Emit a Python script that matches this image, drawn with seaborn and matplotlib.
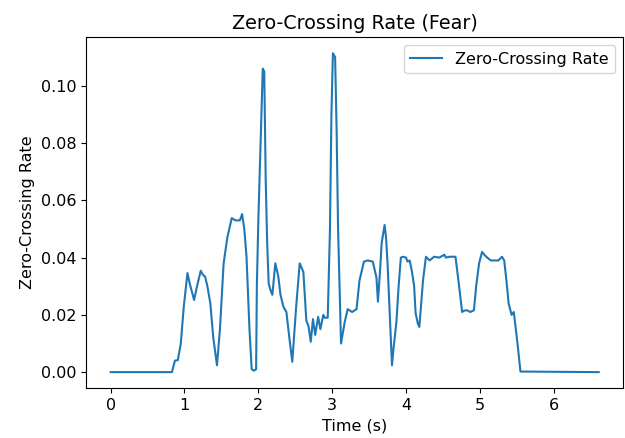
import numpy as np
import pandas as pd
import matplotlib
matplotlib.use('Agg')
import matplotlib.pyplot as plt
import seaborn as sns

# zero-crossing rate, time in seconds
time_s = [0.0, 0.83, 0.87, 0.91, 0.95, 0.99, 1.04, 1.07, 1.13, 1.17, 1.22, 1.25, 1.28,
          1.31, 1.35, 1.39, 1.44, 1.48, 1.53, 1.58, 1.64, 1.69, 1.75, 1.78, 1.81, 1.84,
          1.88, 1.91, 1.94, 1.97, 1.98, 2.00, 2.03, 2.06, 2.08, 2.10, 2.12, 2.14, 2.16,
          2.19, 2.23, 2.27, 2.30, 2.34, 2.38, 2.42, 2.46, 2.51, 2.56, 2.61, 2.65, 2.68,
          2.71, 2.74, 2.77, 2.81, 2.84, 2.88, 2.90, 2.94, 2.97, 2.99, 3.01, 3.04, 3.06,
          3.08, 3.12, 3.14, 3.17, 3.21, 3.27, 3.33, 3.37, 3.43, 3.48, 3.55, 3.60, 3.62,
          3.65, 3.67, 3.71, 3.73, 3.75, 3.78, 3.81, 3.83, 3.87, 3.90, 3.93, 3.96, 4.00,
          4.02, 4.05, 4.08, 4.11, 4.13, 4.16, 4.18, 4.20, 4.23, 4.27, 4.32, 4.38, 4.45,
          4.52, 4.54, 4.59, 4.67, 4.71, 4.76, 4.79, 4.83, 4.87, 4.92, 4.95, 4.99, 5.03,
          5.06, 5.10, 5.15, 5.19, 5.25, 5.30, 5.33, 5.36, 5.39, 5.43, 5.46, 5.51, 5.55,
          6.61]
zcr = [0.0, 0.0, 0.004, 0.0042, 0.010, 0.0228, 0.0346, 0.031, 0.0252, 0.030, 0.0354, 0.034, 0.0333,
       0.030, 0.024, 0.012, 0.0024, 0.015, 0.038, 0.047, 0.0538, 0.053, 0.053, 0.0552, 0.050, 0.0403,
       0.015, 0.001, 0.0005, 0.001, 0.030, 0.053, 0.080, 0.106, 0.105, 0.067, 0.045, 0.031, 0.029,
       0.027, 0.038, 0.0335, 0.027, 0.0228, 0.021, 0.012, 0.0036, 0.022, 0.038, 0.035, 0.018, 0.016,
       0.0106, 0.0185, 0.013, 0.0193, 0.015, 0.020, 0.019, 0.019, 0.0497, 0.090, 0.1114, 0.110, 0.085,
       0.050, 0.010, 0.013, 0.0175, 0.022, 0.021, 0.022, 0.032, 0.0386, 0.039, 0.0386, 0.033, 0.0246,
       0.036, 0.045, 0.0514, 0.047, 0.038, 0.020, 0.0024, 0.008, 0.0175, 0.030, 0.040, 0.0403, 0.040,
       0.0386, 0.039, 0.0352, 0.030, 0.0206, 0.017, 0.0158, 0.022, 0.032, 0.0403, 0.039, 0.0403, 0.040,
       0.041, 0.040, 0.0403, 0.0403, 0.032, 0.021, 0.0215, 0.0216, 0.021, 0.0216, 0.030, 0.038, 0.042,
       0.041, 0.040, 0.039, 0.039, 0.039, 0.0403, 0.039, 0.032, 0.024, 0.020, 0.021, 0.010, 0.0002,
       0.0]

df = pd.DataFrame({'time': time_s, 'zcr': zcr})

plt.rcParams['font.size'] = 11.5
fig, ax = plt.subplots(figsize=(6.25, 4.38), dpi=100)
fig.subplots_adjust(left=0.138, right=0.997, top=0.915, bottom=0.114)

sns.lineplot(data=df, x='time', y='zcr', color='#1f77b4', linewidth=1.5,
             label='Zero-Crossing Rate', ax=ax)

ax.set_title('Zero-Crossing Rate (Fear)')
ax.set_xlabel('Time (s)')
ax.set_ylabel('Zero-Crossing Rate')
ax.legend(loc='upper right')

fig.savefig('out.png', dpi=100)
